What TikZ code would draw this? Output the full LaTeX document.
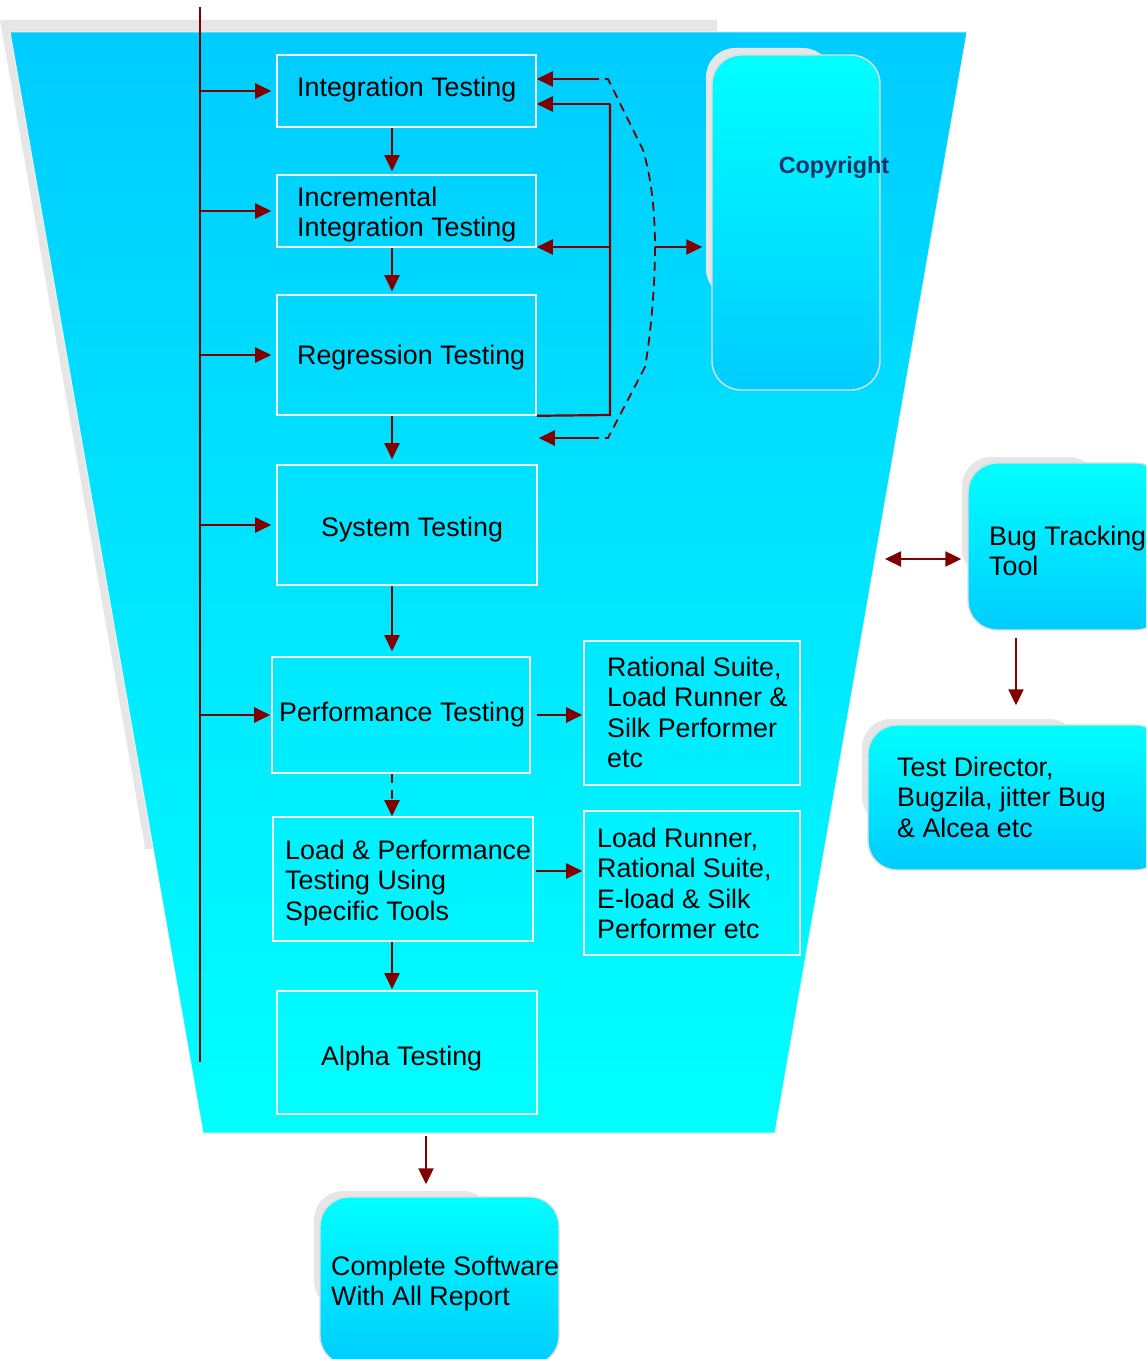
\documentclass[tikz,border=0pt]{standalone}
\usepackage{fontspec}
\setmainfont{Liberation Sans}
\usetikzlibrary{arrows.meta,calc}
\definecolor{funtop}{RGB}{0,204,255}
\definecolor{funbot}{RGB}{0,255,255}
\definecolor{shad}{RGB}{230,230,230}
\definecolor{boxline}{RGB}{242,242,242}
\definecolor{rline}{RGB}{222,222,222}
\definecolor{dred}{RGB}{128,0,0}
\definecolor{navyt}{RGB}{16,50,100}
\newcommand{\lblfont}{\fontsize{26.8}{30.3}\selectfont}
\newcommand{\crfont}{\fontsize{23.4}{27}\selectfont\bfseries}
\begin{document}
\begin{tikzpicture}[x=1pt,y=-1pt,
  tbox/.style={draw=boxline, line width=1.6pt, inner sep=0pt},
  rbox/.style={draw=rline, line width=1.4pt, rounded corners=29pt, top color=funbot, bottom color=funtop, inner sep=0pt},
  lbl/.style={font=\lblfont, align=left, inner sep=0pt, anchor=north west},
  ln/.style={draw=dred, line width=2.2pt},
  dln/.style={draw=dred, line width=1.8pt, dash pattern=on 9pt off 6pt},
  arr/.style={draw=dred, line width=2.2pt, -{Triangle[length=16pt,width=15pt]}},
  arrd/.style={draw=dred, line width=2.2pt, {Triangle[length=16pt,width=15pt]}-{Triangle[length=16pt,width=15pt]}}]
\useasboundingbox (0,0) rectangle (1146,1359);
\clip (0,0) rectangle (1146,1359);
\fill[white] (0,0) rectangle (1146,1359);
% funnel shadow and funnel
\begin{scope}
  \clip (-5,0) rectangle (717,848);
  \fill[shad] (0,20) -- (957,20) -- (765,1121) -- (193,1121) -- cycle;
\end{scope}
\shade[top color=funtop, bottom color=funbot, draw=boxline, line width=1pt]
  (10,32) -- (967,32) -- (775,1133) -- (203,1133) -- cycle;
% rounded box shadows
\fill[shad, rounded corners=29pt] (706,48) rectangle (832,298);
\fill[shad, rounded corners=29pt] (962,457) rectangle (1098,578);
\fill[shad, rounded corners=29pt] (862,719) rectangle (1078,825);
\fill[shad, rounded corners=29pt] (314,1191) rectangle (492,1310);
% rectangular boxes
\node[tbox, minimum width=259pt, minimum height=72pt] (it) at (406.5,91) {};
\node[tbox, minimum width=259pt, minimum height=72pt] (inc) at (406.5,211) {};
\node[tbox, minimum width=259pt, minimum height=120pt] (reg) at (406.5,355) {};
\node[tbox, minimum width=260pt, minimum height=120pt] (sys) at (407,525) {};
\node[tbox, minimum width=258pt, minimum height=116pt] (perf) at (401,715) {};
\node[tbox, minimum width=260pt, minimum height=124pt] (load) at (403,879) {};
\node[tbox, minimum width=260pt, minimum height=123pt] (alpha) at (407,1052.5) {};
\node[tbox, minimum width=216pt, minimum height=144pt] (rat) at (692,713) {};
\node[tbox, minimum width=216pt, minimum height=144pt] (lr) at (692,883) {};
% rounded boxes
\node[rbox, minimum width=168pt, minimum height=335pt] (cr) at (796,222.5) {};
\node[rbox, minimum width=197pt, minimum height=167pt] (bug) at (1066.5,546.5) {};
\node[rbox, minimum width=297pt, minimum height=145pt] (td) at (1016.5,797.5) {};
\node[rbox, minimum width=239pt, minimum height=168pt] (cs) at (439.5,1281) {};
% labels
\node[lbl] (itl) at (297,77) {Integration Testing};
\node[lbl] (incl) at (297,187) {Incremental\\Integration Testing};
\node[lbl] (regl) at (297,345) {Regression Testing};
\node[lbl] (sysl) at (321,517) {System Testing};
\node[lbl] (perfl) at (279,702) {Performance Testing};
\node[lbl] (loadl) at (285,840) {Load \& Performance\\Testing Using\\Specific Tools};
\node[lbl] (alphal) at (321,1046) {Alpha Testing};
\node[lbl] (ratl) at (607,657) {Rational Suite,\\Load Runner \&\\Silk Performer\\etc};
\node[lbl] (lrl) at (597,828) {Load Runner,\\Rational Suite,\\E-load \& Silk\\Performer etc};
\node[lbl] (bugl) at (989,526) {Bug Tracking\\Tool};
\node[lbl] (tdl) at (897,757) {Test Director,\\Bugzila, jitter Bug\\\& Alcea etc};
\node[lbl] (csl) at (331,1256) {Complete Software\\With All Report};
\node[font=\crfont, text=navyt, inner sep=0pt, anchor=north] (crl) at (834,156.5) {Copyright};
% trunk and branches
\coordinate (trTop) at (200,7);
\coordinate (trBot) at (200,1062);
\draw[ln] (trTop) -- (trBot);
\foreach \n in {it,inc,reg,sys}
  \draw[arr, shorten >=5pt] (trTop |- \n.west) -- (\n.west);
\draw[arr, shorten >=1pt] (trTop |- perf.west) -- (perf.west);
% vertical chain
\coordinate (cx) at (392,0);
\draw[arr, shorten >=3pt] (it.south -| cx) -- (inc.north -| cx);
\draw[arr, shorten >=3pt] (inc.south -| cx) -- (reg.north -| cx);
\draw[arr, shorten >=5pt] (reg.south -| cx) -- (sys.north -| cx);
\draw[arr, shorten >=5pt] (sys.south -| cx) -- (perf.north -| cx);
\draw[arr, dash pattern=on 9pt off 7pt] (perf.south -| cx) -- (load.north -| cx);
\draw[arr, shorten >=1pt] (load.south -| cx) -- (alpha.north -| cx);
% to tool boxes
\draw[arr, shorten >=1pt] ([xshift=6pt]perf.east) -- (rat.west |- perf.east);
\coordinate (l1) at (536,871);
\draw[arr, shorten >=1pt] (l1) -- (l1 -| lr.west);
% feedback bracket
\coordinate (b1) at (610,104);
\coordinate (b2) at (610,247);
\coordinate (b3) at (610,415);
\draw[ln] (reg.south east) -- (b3) -- (b1);
\draw[arr] (b1) -- (b1 -| it.east);
\draw[arr] (b2) -- (b2 -| inc.east);
% dashed loop
\coordinate (d1) at (590,79);
\coordinate (d2) at (590,438);
\coordinate (dm) at (655,247);
\draw[arr] (d1) -- (d1 -| it.east);
\draw[arr, shorten >=2pt] (d2) -- (d2 -| reg.east);
\draw[dln] (d1) -- (608,79) -- (643,150) .. controls (652,180) and (655,215) .. (dm)
  .. controls (655,290) and (650,340) .. (645,367) -- (608,438) -- (d2);
\draw[arr, shorten >=9pt] (dm) -- (dm -| cr.west);
% bug tracking
\coordinate (bt) at (885,559);
\draw[arrd, shorten >=6pt] (bt) -- (bt -| bug.west);
\coordinate (bd) at (1016,638);
\draw[arr, shorten >=19pt] (bd) -- (bd |- td.north);
% funnel output
\coordinate (fb) at (426,1136);
\draw[arr, shorten >=12pt] (fb) -- (fb |- cs.north);
\end{tikzpicture}
\end{document}
